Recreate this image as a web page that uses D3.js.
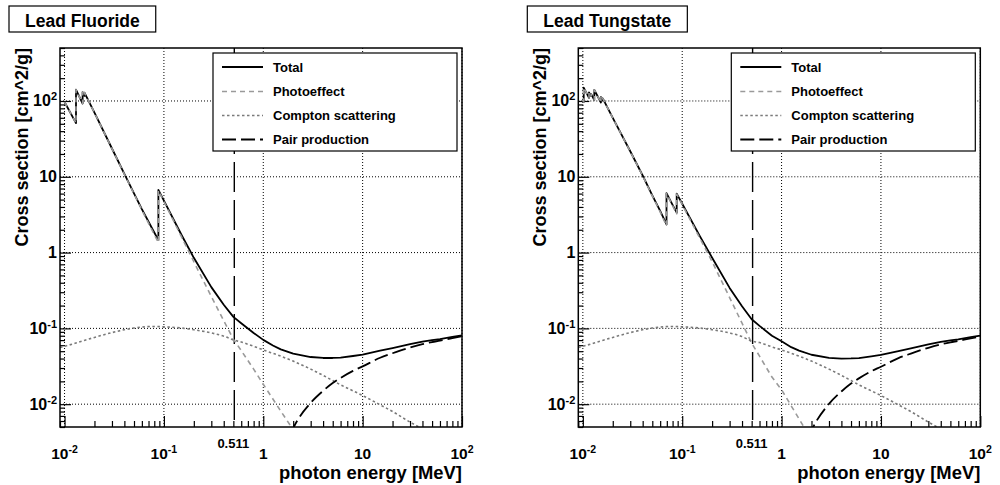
<!DOCTYPE html>
<html>
<head>
<meta charset="utf-8">
<script src="https://cdn.jsdelivr.net/npm/d3@7"></script>
<style>
  body { margin: 0; background: #fff; }
  svg text { font-family: "Liberation Sans", Arial, Helvetica, sans-serif; font-weight: bold; fill: #000; }
</style>
</head>
<body>
<svg id="chart" width="1000" height="485"></svg>
<script>
// Photon cross sections, energies in MeV, values in cm^2/g

// ---- Lead fluoride (PbF2) ----
const pbf2TotalE = [0.01, 0.01304, 0.01304, 0.0152, 0.0152, 0.01586, 0.01586, 0.02, 0.03, 0.04, 0.05, 0.06, 0.08, 0.088, 0.088, 0.1, 0.15, 0.2, 0.3, 0.4, 0.5, 0.6, 0.8, 1, 1.25, 1.5, 2, 3, 4, 5, 6, 8, 10, 15, 20, 30, 40, 50, 60, 80, 100];
const pbf2Total  = [97.1, 51.1, 141, 92.5, 131, 116.6, 129, 70.1, 23.6, 10.9, 6.05, 3.75, 1.84, 1.46, 6.7, 4.85, 1.72, 0.853, 0.35, 0.205, 0.142, 0.117, 0.087, 0.0705, 0.0595, 0.0529, 0.0464, 0.0419, 0.0407, 0.0407, 0.0412, 0.0432, 0.045, 0.0508, 0.055, 0.0618, 0.0667, 0.0699, 0.0723, 0.0771, 0.0806];
const pbf2PhotoE = [0.01, 0.01304, 0.01304, 0.0152, 0.0152, 0.01586, 0.01586, 0.02, 0.03, 0.04, 0.05, 0.06, 0.08, 0.088, 0.088, 0.1, 0.15, 0.2, 0.3, 0.4, 0.5, 0.6, 0.8, 1, 1.25, 1.5, 2];
const pbf2Photo  = [97, 51, 141, 92.5, 131, 116.5, 129, 70, 23.5, 10.8, 5.95, 3.65, 1.73, 1.35, 6.6, 4.75, 1.62, 0.757, 0.263, 0.126, 0.072, 0.051, 0.029, 0.0183, 0.0117, 0.0081, 0.0046];
const pbf2ComptonE = [0.009, 0.01, 0.015, 0.02, 0.03, 0.04, 0.05, 0.06, 0.08, 0.1, 0.15, 0.2, 0.3, 0.4, 0.5, 0.6, 0.8, 1, 1.5, 2, 3, 4, 5, 6, 8, 10, 15, 20, 30, 40, 50];
const pbf2Compton  = [0.056, 0.058, 0.068, 0.076, 0.088, 0.096, 0.101, 0.104, 0.106, 0.105, 0.101, 0.096, 0.087, 0.079, 0.0705, 0.066, 0.058, 0.052, 0.043, 0.037, 0.029, 0.024, 0.0205, 0.018, 0.0150, 0.0130, 0.0098, 0.0080, 0.0058, 0.0047, 0.0039];
const pbf2PairE = [1.25, 1.5, 2, 3, 4, 5, 6, 8, 10, 15, 20, 30, 40, 50, 60, 80, 100];
const pbf2Pair  = [0.0008, 0.0018, 0.0048, 0.0104, 0.0150, 0.0190, 0.0222, 0.0275, 0.0315, 0.041, 0.047, 0.056, 0.062, 0.066, 0.069, 0.0745, 0.0785];

// ---- Lead tungstate (PbWO4) ----
const pbwo4TotalE = [0.01, 0.0102, 0.0102, 0.01154, 0.01154, 0.0121, 0.0121, 0.01304, 0.01304, 0.0152, 0.0152, 0.01586, 0.01586, 0.02, 0.03, 0.04, 0.05, 0.06, 0.0695, 0.0695, 0.08, 0.088, 0.088, 0.1, 0.15, 0.2, 0.3, 0.4, 0.5, 0.6, 0.8, 1, 1.25, 1.5, 2, 3, 4, 5, 6, 8, 10, 15, 20, 30, 40, 50, 60, 80, 100];
const pbwo4Total  = [100.1, 97.1, 150, 110, 130, 116, 124, 103, 140, 95.6, 113, 101.7, 108, 59.7, 21.7, 10.4, 5.70, 3.55, 2.35, 6.1, 4.27, 3.36, 6.0, 4.41, 1.66, 0.856, 0.342, 0.196, 0.132, 0.108, 0.080, 0.0675, 0.0565, 0.051, 0.0449, 0.0409, 0.0399, 0.0401, 0.0406, 0.0427, 0.0446, 0.0503, 0.0545, 0.0613, 0.0662, 0.0694, 0.0718, 0.0766, 0.0801];
const pbwo4PhotoE = [0.01, 0.0102, 0.0102, 0.01154, 0.01154, 0.0121, 0.0121, 0.01304, 0.01304, 0.0152, 0.0152, 0.01586, 0.01586, 0.02, 0.03, 0.04, 0.05, 0.06, 0.0695, 0.0695, 0.08, 0.088, 0.088, 0.1, 0.15, 0.2, 0.3, 0.4, 0.5, 0.6, 0.8, 1, 1.25, 1.5, 2];
const pbwo4Photo  = [100, 97, 150, 110, 130, 116, 124, 103, 140, 95.5, 113, 101.6, 108, 59.6, 21.6, 10.3, 5.6, 3.45, 2.25, 6.0, 4.16, 3.25, 5.9, 4.31, 1.56, 0.76, 0.255, 0.117, 0.064, 0.043, 0.0228, 0.0155, 0.0095, 0.0064, 0.0034];
const pbwo4ComptonE = [0.009, 0.01, 0.015, 0.02, 0.03, 0.04, 0.05, 0.06, 0.08, 0.1, 0.15, 0.2, 0.3, 0.4, 0.5, 0.6, 0.8, 1, 1.5, 2, 3, 4, 5, 6, 8, 10, 15, 20, 30, 40, 50];
const pbwo4Compton  = [0.056, 0.058, 0.068, 0.076, 0.088, 0.096, 0.101, 0.104, 0.106, 0.105, 0.101, 0.096, 0.087, 0.078, 0.068, 0.065, 0.057, 0.052, 0.043, 0.037, 0.029, 0.024, 0.0205, 0.018, 0.0150, 0.0130, 0.0098, 0.0080, 0.0058, 0.0047, 0.0039];
const pbwo4PairE = [1.25, 1.5, 2, 3, 4, 5, 6, 8, 10, 15, 20, 30, 40, 50, 60, 80, 100];
const pbwo4Pair  = [0.0007, 0.0017, 0.0045, 0.0101, 0.0147, 0.0187, 0.0219, 0.0272, 0.0312, 0.0405, 0.0465, 0.0555, 0.0615, 0.0655, 0.0685, 0.074, 0.078];

// Axis ticks and labels
const xTickValues = [0.01, 0.1, 1, 10, 100];
const xTickBase   = ["10", "10", "1", "10", "10"];
const xTickSup    = ["-2", "-1", "", "", "2"];
const yTickValues = [0.01, 0.1, 1, 10, 100];
const yTickBase   = ["10", "10", "1", "10", "10"];
const yTickSup    = ["-2", "-1", "", "", "2"];
const pairThreshold = 0.511;
const legendLabels = ["Total", "Photoeffect", "Compton scattering", "Pair production"];

const xDomain = [0.009, 100];
const yDomain = [0.005, 500];

const svg = d3.select("#chart");

const styles = {
  total:   { stroke: "#000",    width: 1.8, dash: null },
  photo:   { stroke: "#9a9a9a", width: 1.6, dash: "5,4" },
  compton: { stroke: "#7a7a7a", width: 1.6, dash: "2.5,2.5" },
  pair:    { stroke: "#000",    width: 1.8, dash: "14,5" }
};

function minorTicks(lo, hi) {
  const out = [];
  for (let e = Math.floor(Math.log10(lo)); e <= Math.ceil(Math.log10(hi)); e++) {
    for (let m = 1; m <= 9; m++) {
      const v = m * Math.pow(10, e);
      if (m !== 1 && v >= lo * 0.9999 && v <= hi * 1.0001) out.push(v);
    }
  }
  return out;
}

function drawPanel(dx, id, title, series) {
  const g = svg.append("g").attr("transform", `translate(${dx},0)`);
  const left = 60, right = 462, top = 48, bottom = 427;
  const x = d3.scaleLog().domain(xDomain).range([left, right]);
  const y = d3.scaleLog().domain(yDomain).range([bottom, top]);

  g.append("clipPath").attr("id", "clip" + id)
    .append("rect").attr("x", left).attr("y", top)
    .attr("width", right - left).attr("height", bottom - top);

  // dotted grid at decades
  const grid = g.append("g").attr("stroke", "#000").attr("stroke-width", 1)
    .attr("stroke-dasharray", "1,2").attr("fill", "none");
  xTickValues.forEach(v => grid.append("line")
    .attr("x1", x(v)).attr("x2", x(v)).attr("y1", top).attr("y2", bottom));
  yTickValues.forEach(v => grid.append("line")
    .attr("x1", left).attr("x2", right).attr("y1", y(v)).attr("y2", y(v)));

  // axis ticks (inside the frame)
  const ax = g.append("g").attr("transform", `translate(0,${bottom})`);
  ax.call(d3.axisBottom(x).tickValues(xTickValues).tickSize(-11).tickFormat(""));
  const axm = g.append("g").attr("transform", `translate(0,${bottom})`);
  axm.call(d3.axisBottom(x).tickValues(minorTicks(xDomain[0], xDomain[1])).tickSize(-6).tickFormat(""));
  const ay = g.append("g").attr("transform", `translate(${left},0)`);
  ay.call(d3.axisLeft(y).tickValues(yTickValues).tickSize(-11).tickFormat(""));
  const aym = g.append("g").attr("transform", `translate(${left},0)`);
  aym.call(d3.axisLeft(y).tickValues(minorTicks(yDomain[0], yDomain[1])).tickSize(-5).tickFormat(""));
  [ax, axm, ay, aym].forEach(a => {
    a.select(".domain").remove();
    a.selectAll("line").attr("stroke", "#000").attr("stroke-width", 1.2);
  });

  // vertical marker at 0.511 MeV
  g.append("line")
    .attr("x1", x(pairThreshold)).attr("x2", x(pairThreshold))
    .attr("y1", top).attr("y2", bottom)
    .attr("stroke", "#000").attr("stroke-width", 1.4).attr("stroke-dasharray", "30,8");

  // curves
  const line = d3.line().x(d => x(d[0])).y(d => y(d[1]));
  const smooth = d3.line().x(d => x(d[0])).y(d => y(d[1])).curve(d3.curveMonotoneX);
  const curves = g.append("g").attr("clip-path", `url(#clip${id})`).attr("fill", "none");
  const order = ["total", "photo", "compton", "pair"];
  order.forEach(key => {
    const s = series[key];
    const pts = s.e.map((e, i) => [e, s.v[i]]);
    const st = styles[key];
    curves.append("path")
      .attr("d", (key === "compton" || key === "pair") ? smooth(pts) : line(pts))
      .attr("stroke", st.stroke).attr("stroke-width", st.width)
      .attr("stroke-dasharray", st.dash)
      .attr("stroke-linejoin", "round");
  });

  // frame
  g.append("rect").attr("x", left).attr("y", top)
    .attr("width", right - left).attr("height", bottom - top)
    .attr("fill", "none").attr("stroke", "#000").attr("stroke-width", 1.5);

  // x tick labels
  xTickValues.forEach((v, i) => {
    const t = g.append("text").attr("x", x(v)).attr("y", 459)
      .attr("text-anchor", "middle").attr("font-size", 15.5);
    t.append("tspan").text(xTickBase[i]);
    if (xTickSup[i]) t.append("tspan").attr("dy", -6).attr("font-size", 10.5).text(xTickSup[i]);
  });
  g.append("text").attr("x", x(pairThreshold) - 1).attr("y", 448)
    .attr("text-anchor", "middle").attr("font-size", 13).text("0.511");
  g.append("text").attr("x", right).attr("y", 479)
    .attr("text-anchor", "end").attr("font-size", 17.5)
    .attr("textLength", 183).attr("lengthAdjust", "spacingAndGlyphs")
    .text("photon energy [MeV]");

  // y tick labels
  yTickValues.forEach((v, i) => {
    const t = g.append("text").attr("x", 57).attr("y", y(v) + 5.5)
      .attr("text-anchor", "end").attr("font-size", 16);
    t.append("tspan").text(yTickBase[i]);
    if (yTickSup[i]) t.append("tspan").attr("dy", -6).attr("font-size", 11).text(yTickSup[i]);
  });
  g.append("text")
    .attr("transform", `translate(28,${top}) rotate(-90)`)
    .attr("text-anchor", "end").attr("font-size", 18)
    .text("Cross section [cm^2/g]");

  // legend
  const lg = g.append("g");
  lg.append("rect").attr("x", 213).attr("y", 53).attr("width", 244).attr("height", 98)
    .attr("fill", "#fff").attr("stroke", "#000").attr("stroke-width", 1.2);
  const rowsY = [67, 91.5, 115.5, 139.5];
  order.forEach((key, i) => {
    const st = styles[key];
    lg.append("line").attr("x1", 222).attr("x2", 263).attr("y1", rowsY[i]).attr("y2", rowsY[i])
      .attr("stroke", st.stroke).attr("stroke-width", st.width).attr("stroke-dasharray", st.dash);
    lg.append("text").attr("x", 273).attr("y", rowsY[i] + 4.5)
      .attr("font-size", 13).text(legendLabels[i]);
  });

  // title box
  const boxX = 9;
  const box = g.append("rect").attr("x", boxX).attr("y", 6).attr("height", 26)
    .attr("fill", "#fff").attr("stroke", "#000").attr("stroke-width", 1.2);
  const tt = g.append("text").attr("y", 26.5).attr("font-size", 17.5)
    .attr("text-anchor", "middle").text(title);
  const boxW = tt.node().getComputedTextLength() + 32;
  box.attr("width", boxW);
  tt.attr("x", boxX + boxW / 2);
}

drawPanel(0, "a", "Lead Fluoride", {
  total:   { e: pbf2TotalE,   v: pbf2Total },
  photo:   { e: pbf2PhotoE,   v: pbf2Photo },
  compton: { e: pbf2ComptonE, v: pbf2Compton },
  pair:    { e: pbf2PairE,    v: pbf2Pair }
});
drawPanel(518.3, "b", "Lead Tungstate", {
  total:   { e: pbwo4TotalE,   v: pbwo4Total },
  photo:   { e: pbwo4PhotoE,   v: pbwo4Photo },
  compton: { e: pbwo4ComptonE, v: pbwo4Compton },
  pair:    { e: pbwo4PairE,    v: pbwo4Pair }
});
</script>
</body>
</html>
